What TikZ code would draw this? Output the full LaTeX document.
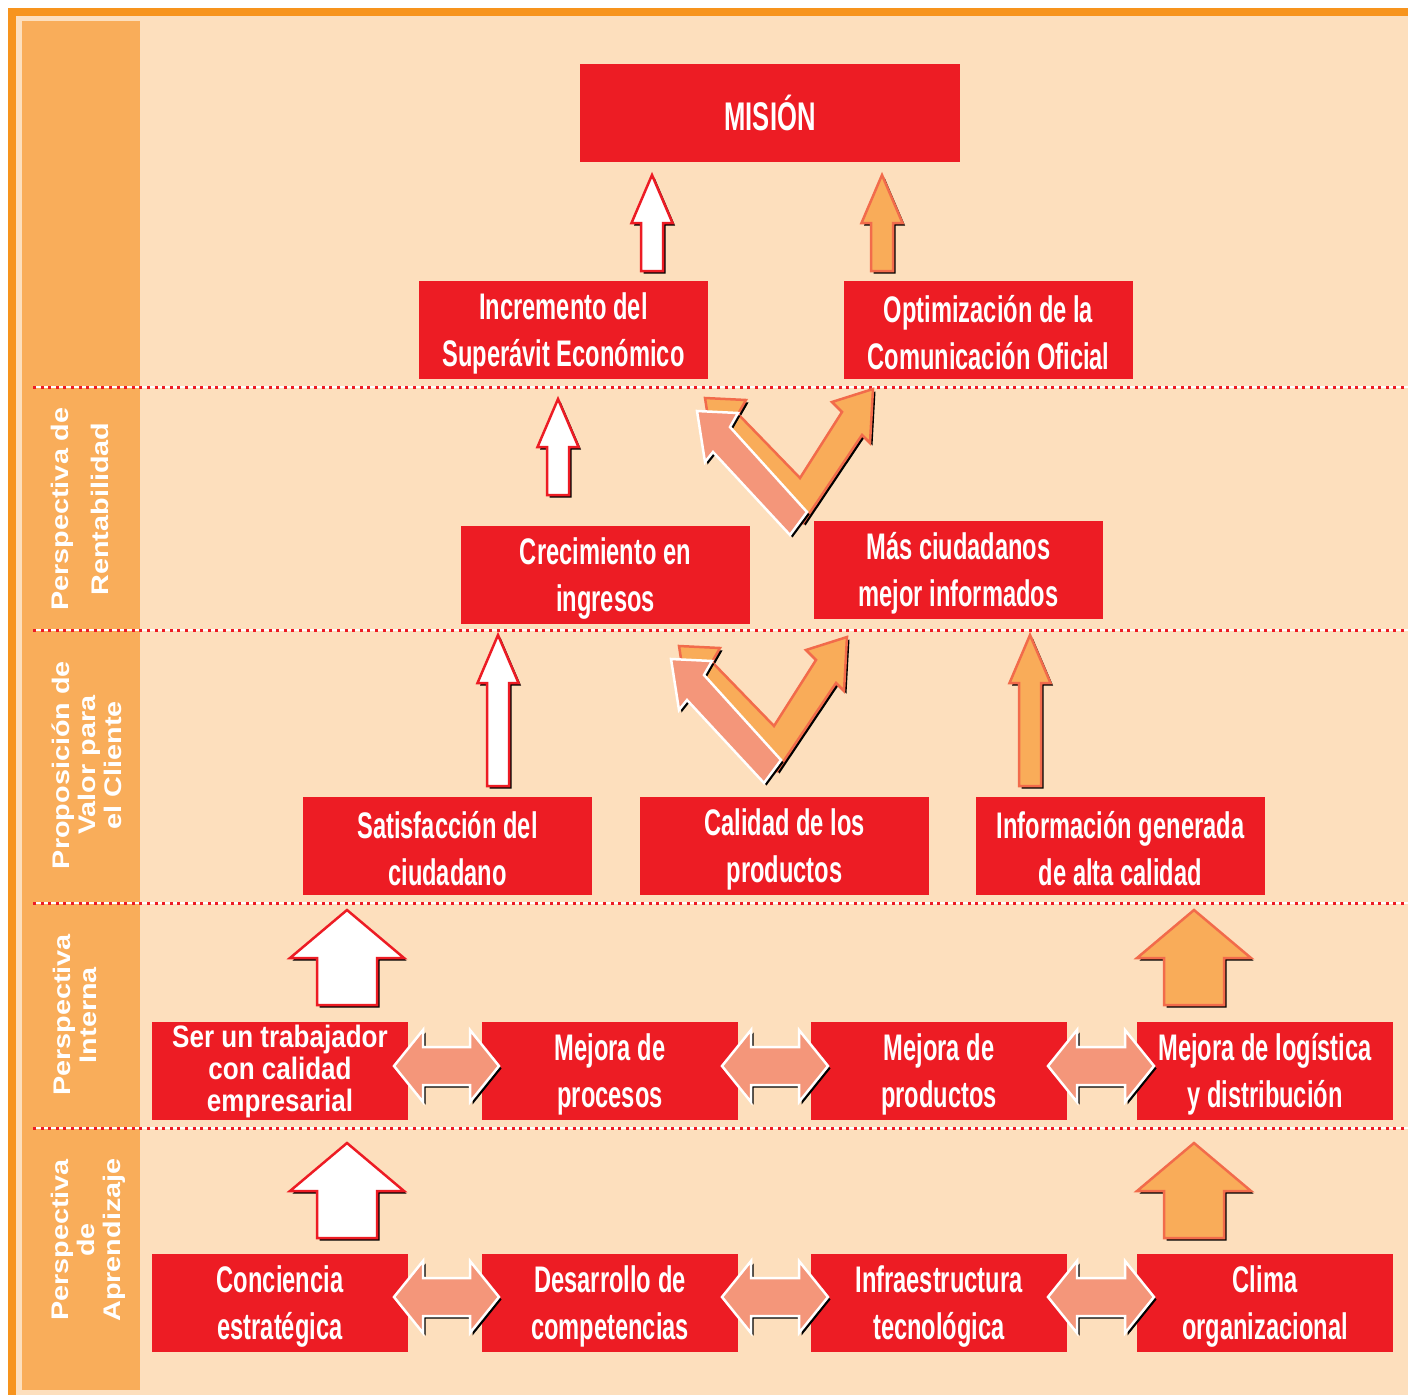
\documentclass[tikz,border=0pt]{standalone}
\usepackage{fontspec}
\setmainfont{Liberation Sans}
\newfontfamily\condfont{Liberation Sans}[FakeStretch=0.64]
\newfontfamily\semifont{Liberation Sans}[FakeStretch=0.84]
\newfontfamily\widefont{Liberation Sans}[FakeStretch=1.2]
\usetikzlibrary{shadows}

\begin{document}
\begin{tikzpicture}[x=1pt, y=-1pt,
  redbox/.style={fill=boxred, inner sep=0pt, minimum width=289pt, minimum height=98pt,
    text=white, align=center, font=\condfont\bfseries\fontsize{37}{47}\selectfont},
  smallbox/.style={redbox, minimum width=256pt},
  sidelabel/.style={rotate=90, text=white, align=center,
    font=\widefont\bfseries\fontsize{24}{26}\selectfont},
  blackshadow/.style={drop shadow={shadow xshift=2.5pt, shadow yshift=-2.5pt, fill=black, opacity=1}},
  whiteup/.style={fill=white, draw=boxred, line width=2.5pt, line join=miter, blackshadow},
  orangeup/.style={fill=arroworange, draw=coral, line width=2.5pt, line join=miter, blackshadow},
  dblarrow/.style={fill=salmon, draw=white, line width=2.5pt, line join=miter, blackshadow},
  dotline/.style={boxred, line width=3pt, dash pattern=on 3pt off 4.6pt}]

\definecolor{frameorange}{HTML}{F7941D}
\definecolor{peach}{HTML}{FDDFBD}
\definecolor{bandorange}{HTML}{F9AD5A}
\definecolor{boxred}{HTML}{ED1C24}
\definecolor{salmon}{HTML}{F4967A}
\definecolor{arroworange}{HTML}{F9AC59}
\definecolor{coral}{HTML}{F26B4B}

%% block arrow pointing up: x, tip y, base y, head half width, shaft half width
\newcommand\upblock[6]{%
\draw[#1](#2,#3)--(#2+#5,#3+48)--(#2+#6,#3+48)--(#2+#6,#4)
--(#2-#6,#4)--(#2-#6,#3+48)--(#2-#5,#3+48)--cycle;}
%% block arrow with two heads: left tip x, right tip x, middle y
\newcommand\sideblock[3]{%
\draw[dblarrow](#1,#3)--(#1+29,#3-36)--(#1+29,#3-19)--(#2-29,#3-19)--(#2-29,#3-36)
--(#2,#3)--(#2-29,#3+36)--(#2-29,#3+19)--(#1+29,#3+19)--(#1+29,#3+36)--cycle;}

\useasboundingbox (0,0) rectangle (1408,1395);

%% frame and band
\fill[frameorange](8,8) rectangle (1408,1395);
\fill[peach](16,16) rectangle (1408,1395);
\fill[bandorange](22,21) rectangle (140,1390);

\foreach \yy in {387,630,903,1128}{
  \draw[white, line width=2.5pt](33,\yy)--(1408,\yy);
  \draw[dotline](33,\yy)--(1408,\yy);
}

%% perspectives
\node[sidelabel] (lblrent) at (80,509) {Perspectiva de\\[14pt]Rentabilidad};
\node[sidelabel] (lblprop) at (87,765) {Proposición de\\Valor para\\el Cliente};
\node[sidelabel] (lblint) at (75,1015) {Perspectiva\\Interna};
\node[sidelabel] (lblapr) at (88,1240) {Perspectiva\\de\\Aprendizaje};

%% boxes
\node[redbox, minimum width=380pt, font=\condfont\bfseries\fontsize{40}{46}\selectfont]
  (mision) at (770,113) {MISIÓN};
\node[redbox] (incremento) at (563.5,330) {\strut Incremento del\\Superávit Económico};
\node[redbox] (optimizacion) at (988.5,330) {\strut Optimización de la\\Comunicación Oficial};
\node[redbox] (crecimiento) at (605.5,575) {\strut Crecimiento en\\ingresos};
\node[redbox] (masciud) at (958.5,570) {\strut Más ciudadanos\\mejor informados};
\node[redbox] (satisfaccion) at (447.5,846) {\strut Satisfacción del\\ciudadano};
\node[redbox] (calidad) at (784.5,846) {\strut Calidad de los\\productos};
\node[redbox] (informacion) at (1120.5,846) {\strut Información generada\\de alta calidad};

\node[smallbox, font=\semifont\bfseries\fontsize{31}{32}\selectfont]
  (trabajador) at (280,1071) {Ser un trabajador\\con calidad\\empresarial};
\node[smallbox] (procesos) at (610,1071) {\strut Mejora de\\procesos};
\node[smallbox] (productos) at (939,1071) {\strut Mejora de\\productos};
\node[smallbox] (logistica) at (1265,1071) {\strut Mejora de logística\\y distribución};

\node[smallbox] (conciencia) at (280,1303) {\strut Conciencia\\estratégica};
\node[smallbox] (competencias) at (610,1303) {\strut Desarrollo de\\competencias};
\node[smallbox] (infraestructura) at (939,1303) {\strut Infraestructura\\tecnológica};
\node[smallbox] (clima) at (1265,1303) {\strut Clima\\organizacional};

%% up arrows
\upblock{whiteup}{652}{175}{271}{20.5}{11}
\upblock{orangeup}{882}{175}{271}{20.5}{11}
\upblock{whiteup}{558}{399}{495}{20.5}{11}
\upblock{whiteup}{498}{635}{786}{20.5}{11}
\upblock{orangeup}{1030}{635}{786}{20.5}{11}
\upblock{whiteup}{347}{910}{1005}{57}{30}
\upblock{orangeup}{1194}{910}{1005}{57}{30}
\upblock{whiteup}{347}{1143}{1238}{57}{30}
\upblock{orangeup}{1194}{1143}{1238}{57}{30}

%% bent arrows
\foreach \dy/\dx in {0/0,248/-26}{
\begin{scope}[shift={(\dx,\dy)}]
\draw[orangeup](705,398)--(746,400)--(738,414)--(800,478)--(842,412)--(832,402)
--(873,389)--(870,443)--(862,435)--(803,523)--(721,439)--(713,449)--cycle;
\draw[dblarrow](697,411)--(738,413)--(730,427)--(807,512)--(790,535)--(713,452)
--(705,462)--cycle;
\end{scope}
}

%% side arrows
\foreach \yy in {1066,1297}{
\sideblock{394}{499}{\yy}
\sideblock{722}{828}{\yy}
\sideblock{1048}{1154}{\yy}
}
\end{tikzpicture}
\end{document}
